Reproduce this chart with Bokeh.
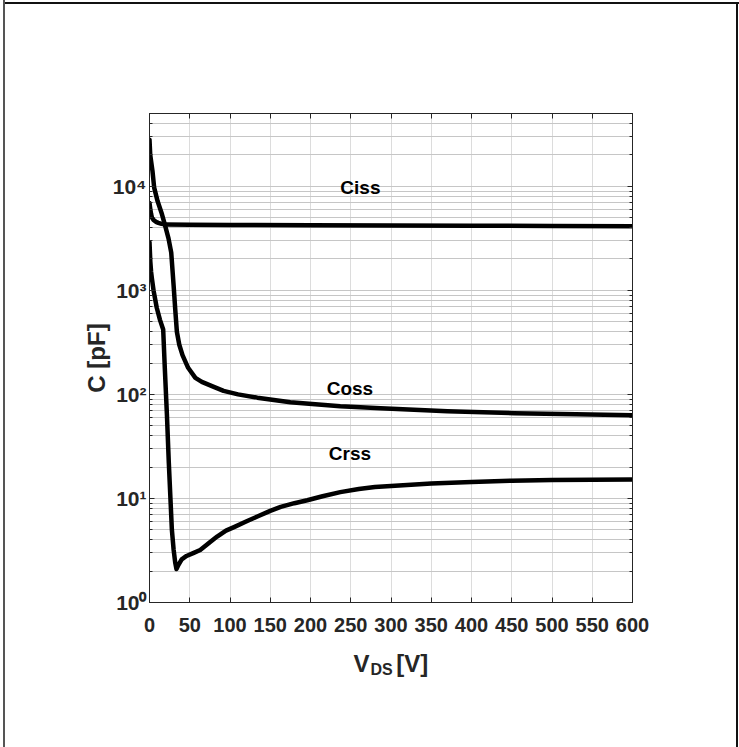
import numpy as np
from bokeh.plotting import figure
from bokeh.layouts import column
from bokeh.models import Range1d, FixedTicker, LinearAxis, LogAxis, Label
from bokeh.embed import file_html
from bokeh.resources import INLINE
from bokeh.core.properties import value

# ---------------- data ----------------
ciss_v = [0, 1, 2, 3, 5, 8, 11, 15, 20, 50, 100, 200, 300, 400, 500, 600]
ciss_c = [6900, 6000, 5400, 5000, 4750, 4550, 4450, 4350, 4280, 4260, 4240, 4220, 4200, 4170, 4150, 4130]

coss_v = [0, 0.9, 3.7, 5.8, 10, 15.4, 19, 23.6, 27, 30, 32, 34, 37, 41, 48, 57, 65, 77.6, 92, 110,
          134, 175, 237, 287, 370, 453, 530, 600]
coss_c = [28000, 20000, 14000, 9700, 7200, 5400, 4300, 3150, 2300, 1100, 650, 400, 300, 238, 180, 144,
          132, 120, 108, 100, 93, 84, 77, 73.5, 69, 66, 64.5, 63]

crss_v = [0, 1, 2, 3, 5, 9, 13, 17, 19, 21.6, 24, 26, 27.8, 30, 32, 33.5, 36, 40, 46, 55, 63, 75, 84,
          95, 105, 120, 134, 150, 163, 180, 196, 215, 237, 260, 280, 300, 350, 400, 450, 500, 550, 600]
crss_c = [2900, 1900, 1500, 1300, 1000, 680, 520, 420, 180, 65, 22, 10, 5.0, 3.2, 2.4, 2.1, 2.3, 2.6,
          2.8, 3.0, 3.2, 3.8, 4.3, 4.9, 5.3, 6.0, 6.7, 7.6, 8.3, 9.0, 9.6, 10.5, 11.5, 12.3, 12.9,
          13.2, 13.9, 14.4, 14.8, 15.0, 15.1, 15.2]

curve_names = ["Ciss", "Coss", "Crss"]
curve_label_pos = [(262, 9700), (249, 113), (249, 27.2)]

x_ticks = [0, 50, 100, 150, 200, 250, 300, 350, 400, 450, 500, 550, 600]
y_ticks = [1, 10, 100, 1000, 10000]
y_tick_labels = ["10\u2070", "10\u00b9", "10\u00b2", "10\u00b3", "10\u2074"]
y_minor = [m * d for d in [1, 10, 100, 1000, 10000] for m in range(2, 10) if m * d <= 50000]

x_title_parts = ["V", "DS", "[V]"]
y_title = "C [pF]"

FONT = "Liberation Sans"
TXT = "#262626"

# ---------------- main plot ----------------
p = figure(width=739, height=642,
           x_range=Range1d(0, 600), y_range=Range1d(1, 50000),
           y_axis_type="log", output_backend="svg", toolbar_location=None,
           min_border_left=149, min_border_right=107,
           min_border_top=113, min_border_bottom=40)
p.background_fill_color = "white"
p.border_fill_color = None
p.outline_line_color = TXT
p.outline_line_width = 1

xt = FixedTicker(ticks=x_ticks, minor_ticks=[])
yt = FixedTicker(ticks=y_ticks, minor_ticks=y_minor)

p.xgrid.ticker = xt
p.ygrid.ticker = yt
p.xgrid.grid_line_color = "#dcdcdc"
p.ygrid.grid_line_color = "#c6c6c6"
p.ygrid.minor_grid_line_color = "#c6c6c6"

def style_axis(ax, labels=True, size="20px"):
    ax.axis_line_color = TXT
    ax.major_tick_line_color = TXT
    ax.minor_tick_line_color = TXT
    ax.major_tick_in = 5
    ax.major_tick_out = 0
    ax.minor_tick_in = 3
    ax.minor_tick_out = 0
    ax.major_label_text_font = FONT
    ax.major_label_text_font_style = "bold"
    ax.major_label_text_color = TXT if labels else None
    ax.major_label_text_font_size = size if labels else "0px"

xa = p.xaxis[0]
xa.ticker = xt
style_axis(xa, size="20px")
xa.major_label_standoff = 15

ya = p.yaxis[0]
ya.ticker = yt
style_axis(ya, size="21px")
ya.major_label_overrides = {t: s for t, s in zip(y_ticks, y_tick_labels)}
ya.major_label_standoff = 3
ya.axis_label = y_title
ya.axis_label_text_font = FONT
ya.axis_label_text_font_style = "bold"
ya.axis_label_text_font_size = "24px"
ya.axis_label_text_color = TXT
ya.axis_label_standoff = 0

top = LinearAxis(ticker=xt)
style_axis(top, labels=False)
p.add_layout(top, "above")

right = LogAxis(ticker=yt)
style_axis(right, labels=False)
p.add_layout(right, "right")

for xs, ys in [(ciss_v, ciss_c), (coss_v, coss_c), (crss_v, crss_c)]:
    p.line(xs, ys, line_width=4.5, line_color="black", line_join="round", line_cap="round")

for name, (lx, ly) in zip(curve_names, curve_label_pos):
    p.add_layout(Label(x=lx, y=ly, text=name, text_font=FONT, text_font_style="bold",
                       text_font_size="19px", text_color="black",
                       text_align="center", text_baseline="middle"))

# ---------------- x-axis title strip (V with subscript DS), same x scale as the plot ----------------
t = figure(width=739, height=105, x_range=Range1d(0, 600), y_range=Range1d(105, 0),
           output_backend="svg", toolbar_location=None,
           x_axis_location=None, y_axis_location=None,
           min_border_left=149, min_border_right=107, min_border_top=0, min_border_bottom=0)
t.grid.visible = False
t.outline_line_color = None
t.background_fill_color = None
t.border_fill_color = None
t.text(x=[253.5], y=[21], text=[x_title_parts[0]], text_font=value(FONT), text_font_style="bold",
       text_font_size="24px", text_color=TXT, text_align="left", text_baseline="alphabetic")
t.text(x=[274.5], y=[27], text=[x_title_parts[1]], text_font=value(FONT), text_font_style="bold",
       text_font_size="16px", text_color=TXT, text_align="left", text_baseline="alphabetic")
t.text(x=[306.5], y=[21], text=[x_title_parts[2]], text_font=value(FONT), text_font_style="bold",
       text_font_size="24px", text_color=TXT, text_align="left", text_baseline="alphabetic")

layout = column(p, t, spacing=0, styles={
    "box-shadow": ("inset 3px 0 0 0 #fff, inset 5px 0 0 0 #555, "
                   "inset 0 2px 0 0 #fff, inset 0 4px 0 0 #111, "
                   "inset -1px 0 0 0 #fff, inset -3px 0 0 0 #111")})

open("out.html", "w").write(file_html(layout, INLINE))
